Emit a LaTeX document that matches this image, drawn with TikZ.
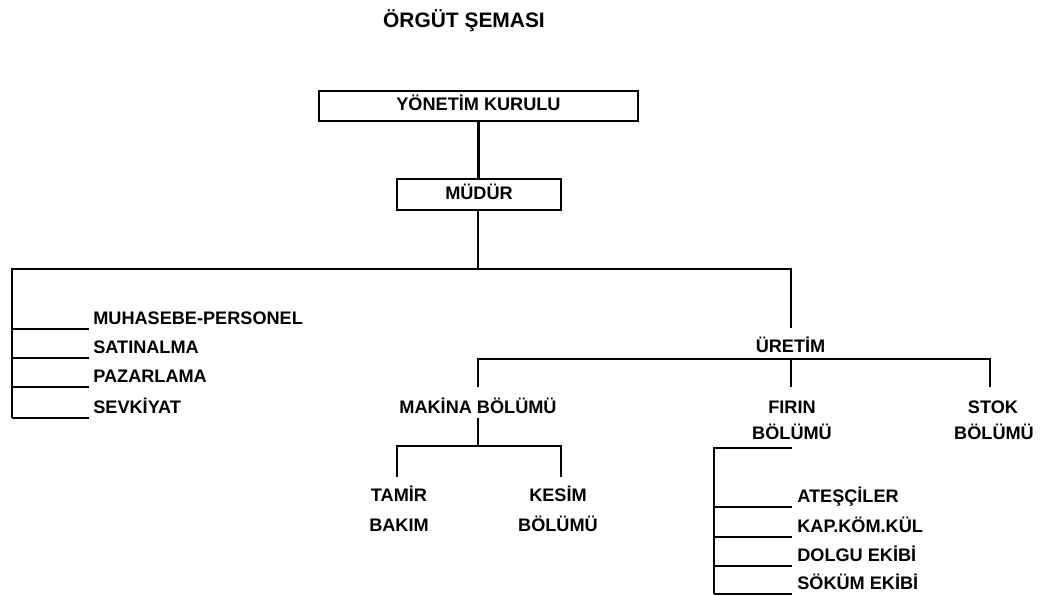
\documentclass[tikz,border=0pt]{standalone}
\usepackage{fontspec}
\setmainfont{Liberation Sans}
\begin{document}
\begin{tikzpicture}[x=0.75pt,y=-0.75pt,line width=2pt,
  lbl/.style={font=\fontsize{13.6}{16}\selectfont\bfseries,inner sep=0pt,anchor=base},
  lblw/.style={lbl,anchor=base west},
  box/.style={draw,line width=2pt,font=\fontsize{13.6}{16}\selectfont\bfseries,
    text height=0.72em,text depth=0pt,inner sep=0pt}]
\useasboundingbox (0,0) rectangle (1043,596);
% title
\node[lbl,font=\fontsize{15.7}{18}\selectfont\bfseries] (title) at (464,27) {ÖRGÜT ŞEMASI};
% boxes
\node[box,minimum width=239.25pt,minimum height=22.5pt] (yk) at (478.5,106) {YÖNETİM KURULU};
\node[box,minimum width=123pt,minimum height=23.25pt] (mudur) at (479,194.5) {MÜDÜR};
\draw (yk.south) -- (yk.south |- mudur.north);
% main bar
\coordinate (j1) at (478,269);
\coordinate (lt) at (12,269);
\coordinate (lbot) at (12,418);
\coordinate (rt) at (791,269);
\coordinate (rb) at (791,328);
\draw (mudur.south -| j1) -- (j1);
\draw (lbot) -- (lt) -- (rt) -- (rb);
% left staff units
\node[lblw] (muh) at (92,324) {MUHASEBE-PERSONEL};
\node[lblw] (sat) at (92,353) {SATINALMA};
\node[lblw] (paz) at (92,382) {PAZARLAMA};
\node[lblw] (sev) at (92,413) {SEVKİYAT};
\foreach \y in {329,358,387,418} \draw (12,\y) -- (89,\y);
% production
\node[lbl] (uretim) at (790.5,352) {ÜRETİM};
\coordinate (u1) at (478,359);
\coordinate (u2) at (791,359);
\coordinate (u3) at (990,359);
\draw (478,387) -- (u1) -- (u3) -- (990,387);
\draw (u2) -- (791,387);
\node[lbl] (makina) at (478,413) {MAKİNA BÖLÜMÜ};
\node[lbl] (firin) at (792,413) {FIRIN};
\node[lbl] (firin2) at (792,439) {BÖLÜMÜ};
\node[lbl] (stok) at (993,413) {STOK};
\node[lbl] (stok2) at (994,439) {BÖLÜMÜ};
% makina sub
\coordinate (m1) at (478,446);
\coordinate (ml) at (397,446);
\coordinate (mr) at (561,446);
\draw (478,418) -- (m1);
\draw (397,477) -- (ml) -- (mr) -- (561,477);
\node[lbl] (tamir) at (399,501) {TAMİR};
\node[lbl] (bakim) at (399,531) {BAKIM};
\node[lbl] (kesim) at (558,501) {KESİM};
\node[lbl] (kesim2) at (558,531) {BÖLÜMÜ};
% firin sub
\coordinate (ft) at (714,448);
\coordinate (fb) at (714,594);
\draw (792,448) -- (ft) -- (fb);
\foreach \y in {507,537,566,594} \draw (714,\y) -- (792,\y);
\node[lblw] (ates) at (796,502) {ATEŞÇİLER};
\node[lblw] (kap) at (796,532) {KAP.KÖM.KÜL};
\node[lblw] (dolgu) at (796,561) {DOLGU EKİBİ};
\node[lblw] (sokum) at (796,589) {SÖKÜM EKİBİ};
\end{tikzpicture}
\end{document}
